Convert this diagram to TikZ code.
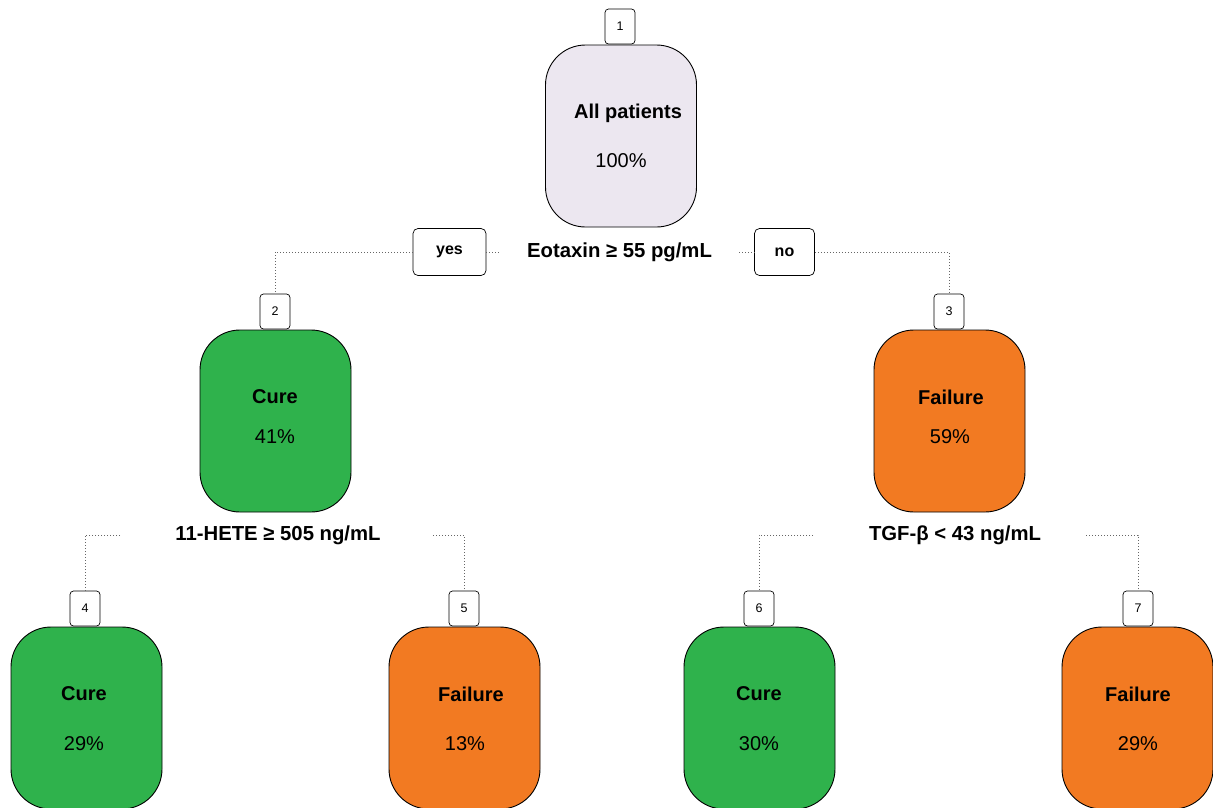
\documentclass[tikz,border=0pt]{standalone}
\usepackage{fontspec}
\setmainfont{Liberation Sans}
\definecolor{rootfill}{HTML}{ECE7F0}
\definecolor{curefill}{HTML}{2FB24C}
\definecolor{failfill}{HTML}{F27A22}
\begin{document}
\begin{tikzpicture}[x=1pt,y=-1pt,
 box/.style={draw=black, line width=0.9pt, rounded corners=40pt, minimum width=151pt, minimum height=182pt, inner sep=0pt},
 num/.style={draw=black, fill=white, line width=0.7pt, rounded corners=3.5pt, minimum width=30pt, minimum height=35pt, inner sep=0pt, font=\fontsize{12.5}{14}\selectfont},
 ans/.style={draw=black, fill=white, line width=0.7pt, rounded corners=5pt, minimum height=47pt, inner sep=0pt, font=\bfseries\fontsize{16}{18}\selectfont},
 conn/.style={line width=1pt, dash pattern=on 1pt off 2pt, black!60},
 title/.style={font=\bfseries\fontsize{20}{24}\selectfont, inner sep=0pt},
 pct/.style={font=\fontsize{20}{24}\selectfont, inner sep=0pt},
 split/.style={font=\bfseries\fontsize{20.3}{24}\selectfont, inner sep=0pt}]
\useasboundingbox (0,0) rectangle (1213,807);
\clip (0,0) rectangle (1213,807);

% main boxes
\node[box, fill=rootfill] (n1) at (621,136) {};
\node[box, fill=curefill] (n2) at (275.5,421) {};
\node[box, fill=failfill] (n3) at (949.5,421) {};
\node[box, fill=curefill] (n4) at (86.5,718) {};
\node[box, fill=failfill] (n5) at (464.5,718) {};
\node[box, fill=curefill] (n6) at (759.5,718) {};
\node[box, fill=failfill] (n7) at (1137.5,718) {};

% texts in boxes
\node[title] (t1) at (628,113) {All patients};
\node[pct] (p1) at (621,161) {100\%};
\node[title] (t2) at (275,397) {Cure};
\node[pct] (p2) at (275,437) {41\%};
\node[title] (t3) at (951,397) {Failure};
\node[pct] (p3) at (950,437) {59\%};
\node[title] (t4) at (84,694) {Cure};
\node[pct] (p4) at (84,744) {29\%};
\node[title] (t5) at (471,694) {Failure};
\node[pct] (p5) at (465,744) {13\%};
\node[title] (t6) at (759,694) {Cure};
\node[pct] (p6) at (759,744) {30\%};
\node[title] (t7) at (1138,694) {Failure};
\node[pct] (p7) at (1138,744) {29\%};

% number tags
\node[num] (k1) at (620,26.5) {1};
\node[num] (k2) at (275,311.5) {2};
\node[num] (k3) at (949,311.5) {3};
\node[num] (k4) at (85,608.5) {4};
\node[num] (k5) at (464,608.5) {5};
\node[num] (k6) at (759,608.5) {6};
\node[num] (k7) at (1138,608.5) {7};

% split labels
\node[split] (s1) at (619.5,252) {Eotaxin ≥ 55 pg/mL};
\node[split] (s2) at (278,535) {11-HETE ≥ 505 ng/mL};
\node[split] (s3) at (955,535) {TGF-β < 43 ng/mL};

\node[ans, minimum width=73pt] (yes) at (449.5,252) {yes};
\node[ans, minimum width=60pt] (no) at (784.5,252) {no};

% connector ends
\coordinate (e1) at (501,252);
\coordinate (e2) at (739,252);
\coordinate (a1) at (120,535);
\coordinate (a2) at (433,535);
\coordinate (b1) at (813,535);
\coordinate (b2) at (1086,535);

\draw[conn] (yes.west) -| (k2.north);
\draw[conn] (yes.east) -- (e1);
\draw[conn] (e2) -- (no.west);
\draw[conn] (no.east) -| (k3.north);
\draw[conn] (a1) -| (k4.north);
\draw[conn] (a2) -| (k5.north);
\draw[conn] (b1) -| (k6.north);
\draw[conn] (b2) -| (k7.north);
\end{tikzpicture}
\end{document}
